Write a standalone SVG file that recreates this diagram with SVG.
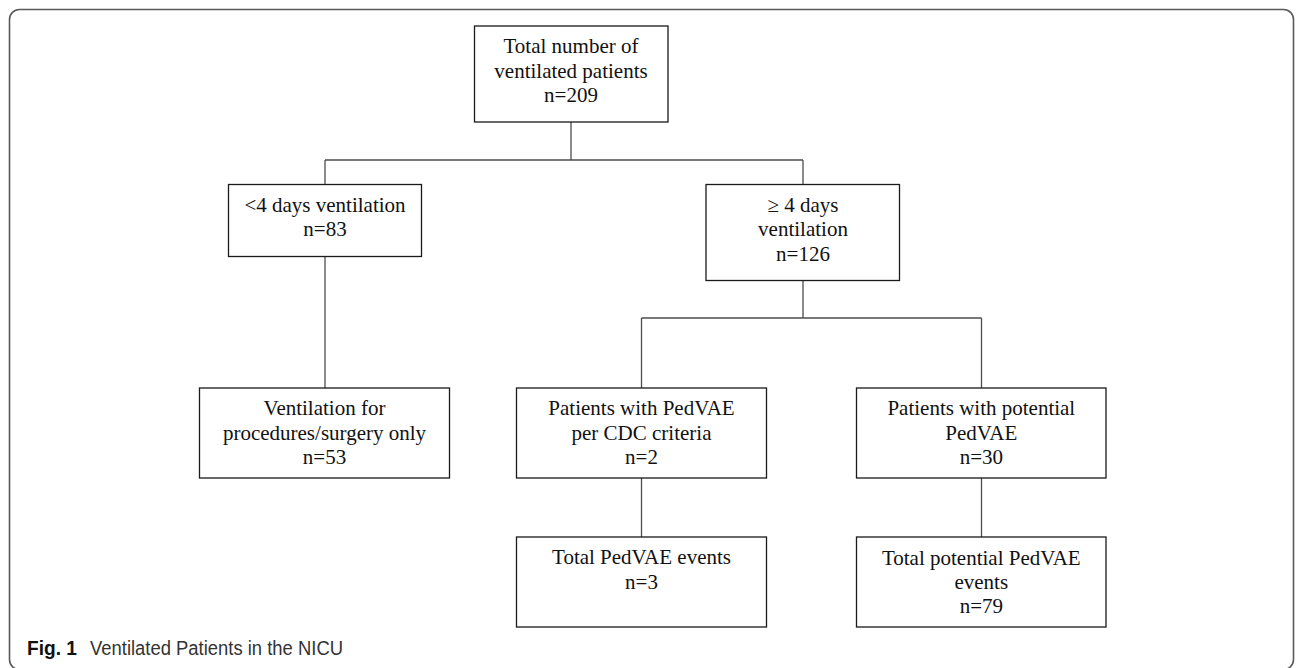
<svg xmlns="http://www.w3.org/2000/svg" width="1296" height="668" viewBox="0 0 1296 668">
<style>
.box{fill:#fff;stroke:#1a1a1a;stroke-width:1.3}
.t{font-family:"Liberation Serif","Times New Roman",serif;font-size:21px;fill:#111;text-anchor:middle}
.c{fill:none;stroke:#4d4d4d;stroke-width:1.3}
.frame{fill:none;stroke:#5a5a5a;stroke-width:1.6}
.cap{font-family:"Liberation Sans",Arial,sans-serif;font-size:20px}
</style>
<rect width="1296" height="668" fill="#fff"/>
<rect class="frame" x="9.5" y="9.5" width="1284" height="660" rx="10"/>
<g id="connectors">
<path class="c" d="M571 122V160M325 160H803M325 160V184.5M803 160V184.5"/>
<path class="c" d="M325 256.5V388"/>
<path class="c" d="M803 280.5V318M641.5 318H981.5M641.5 318V388M981.5 318V388"/>
<path class="c" d="M641.5 478V537M981.5 478V537"/>
</g>
<g id="n1">
<rect class="box" x="474.5" y="26" width="193.5" height="96"/>
<text class="t" x="571" y="53">Total number of</text>
<text class="t" x="571" y="77.5">ventilated patients</text>
<text class="t" x="571" y="102">n=209</text>
</g>
<g id="n2">
<rect class="box" x="228.5" y="184.5" width="193" height="72"/>
<text class="t" x="325" y="211.5">&lt;4 days ventilation</text>
<text class="t" x="325" y="236">n=83</text>
</g>
<g id="n3">
<rect class="box" x="706" y="184.5" width="193.5" height="96"/>
<text class="t" x="803" y="211.5">≥ 4 days</text>
<text class="t" x="803" y="236">ventilation</text>
<text class="t" x="803" y="260.5">n=126</text>
</g>
<g id="n4">
<rect class="box" x="199.5" y="388" width="250" height="90"/>
<text class="t" x="324.5" y="415">Ventilation for</text>
<text class="t" x="324.5" y="440">procedures/surgery only</text>
<text class="t" x="324.5" y="464">n=53</text>
</g>
<g id="n5">
<rect class="box" x="516.5" y="388" width="250" height="90"/>
<text class="t" x="641.5" y="415">Patients with PedVAE</text>
<text class="t" x="641.5" y="439.5">per CDC criteria</text>
<text class="t" x="641.5" y="464">n=2</text>
</g>
<g id="n6">
<rect class="box" x="856.5" y="388" width="249.5" height="90"/>
<text class="t" x="981.3" y="415">Patients with potential</text>
<text class="t" x="981.3" y="439.5">PedVAE</text>
<text class="t" x="981.3" y="464">n=30</text>
</g>
<g id="n7">
<rect class="box" x="516.5" y="537" width="250" height="90"/>
<text class="t" x="641.5" y="564">Total PedVAE events</text>
<text class="t" x="641.5" y="589">n=3</text>
</g>
<g id="n8">
<rect class="box" x="856.5" y="537" width="249.5" height="90"/>
<text class="t" x="981.3" y="564.5">Total potential PedVAE</text>
<text class="t" x="981.3" y="588.5">events</text>
<text class="t" x="981.3" y="613">n=79</text>
</g>
<g id="caption">
<text class="cap" x="27" y="654.5" font-weight="bold" fill="#111" textLength="50" lengthAdjust="spacingAndGlyphs">Fig. 1</text>
<text class="cap" x="90" y="654.5" fill="#333" textLength="253" lengthAdjust="spacingAndGlyphs">Ventilated Patients in the NICU</text>
</g>
</svg>
